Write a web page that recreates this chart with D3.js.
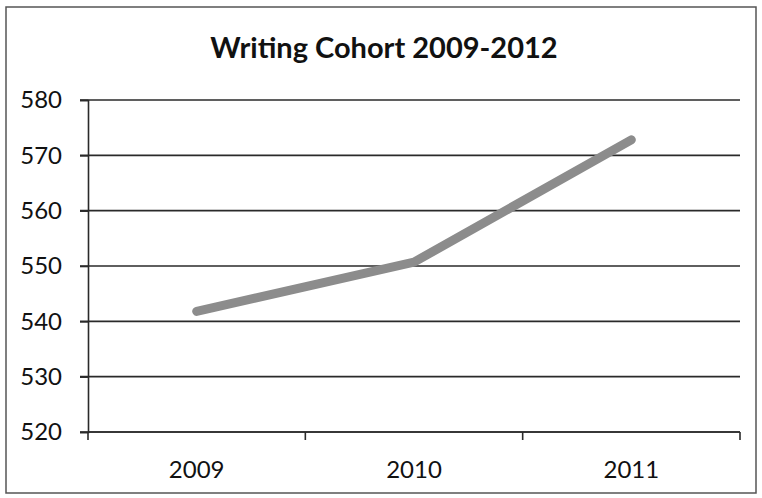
<!DOCTYPE html>
<html>
<head>
<meta charset="utf-8">
<script src="https://cdn.jsdelivr.net/npm/d3@7"></script>
<style>
  body { margin: 0; background: #fff; }
  svg text { font-family: Lato, "Open Sans", sans-serif; fill: #111; }
</style>
</head>
<body>
<svg id="chart" width="762" height="498"></svg>
<script>
// chart data
var years = ["2009", "2010", "2011"];
var scores = [541.8, 550.7, 572.8];
var yTicks = [520, 530, 540, 550, 560, 570, 580];
var title = "Writing Cohort 2009-2012";

var W = 762, H = 498;
var margin = {left: 88, right: 22, top: 100, bottom: 66};

var svg = d3.select("#chart");

// outer frame
svg.append("rect")
    .attr("x", 6).attr("y", 7)
    .attr("width", W - 12).attr("height", H - 12)
    .attr("fill", "none")
    .attr("stroke", "#555")
    .attr("stroke-width", 1.5);

var x = d3.scaleBand()
    .domain(years)
    .range([margin.left, W - margin.right]);

var y = d3.scaleLinear()
    .domain([520, 580])
    .range([H - margin.bottom, margin.top]);

// gridlines
svg.append("g")
    .selectAll("line")
    .data(yTicks)
    .join("line")
    .attr("x1", margin.left - 8)
    .attr("x2", W - margin.right)
    .attr("y1", function(d){ return y(d); })
    .attr("y2", function(d){ return y(d); })
    .attr("stroke", "#2a2a2a")
    .attr("stroke-width", 1.6);

// y axis
var yAxis = svg.append("g")
    .attr("transform", "translate(" + margin.left + ",0)")
    .call(d3.axisLeft(y).tickValues(yTicks).tickSize(8).tickPadding(18));
yAxis.select(".domain").attr("stroke", "#2a2a2a").attr("stroke-width", 1.6);
yAxis.selectAll(".tick line").attr("stroke", "#2a2a2a").attr("stroke-width", 1.6);
yAxis.selectAll("text").attr("font-size", 24).attr("fill", "#111");

// x axis: ticks on band edges, labels in centres
var edges = years.map(function(d){ return x(d); }).concat([x.range()[1]]);
var xg = svg.append("g");
xg.append("line")
    .attr("x1", margin.left).attr("x2", W - margin.right)
    .attr("y1", y(520)).attr("y2", y(520))
    .attr("stroke", "#2a2a2a").attr("stroke-width", 1.6);
xg.selectAll("line.tk")
    .data(edges)
    .join("line")
    .attr("class", "tk")
    .attr("x1", function(d){ return d; })
    .attr("x2", function(d){ return d; })
    .attr("y1", y(520))
    .attr("y2", y(520) + 8)
    .attr("stroke", "#2a2a2a").attr("stroke-width", 1.6);
xg.selectAll("text")
    .data(years)
    .join("text")
    .attr("x", function(d){ return x(d) + x.bandwidth() / 2; })
    .attr("y", y(520) + 46)
    .attr("text-anchor", "middle")
    .attr("font-size", 24)
    .text(function(d){ return d; });

// the line
var line = d3.line()
    .x(function(d, i){ return x(years[i]) + x.bandwidth() / 2; })
    .y(function(d){ return y(d); });

svg.append("path")
    .datum(scores)
    .attr("d", line)
    .attr("fill", "none")
    .attr("stroke", "#8c8c8c")
    .attr("stroke-width", 9)
    .attr("stroke-linecap", "round")
    .attr("stroke-linejoin", "round");

// title
svg.append("text")
    .attr("x", 384)
    .attr("y", 58)
    .attr("text-anchor", "middle")
    .attr("font-size", 29)
    .attr("font-weight", "bold")
    .text(title);
</script>
</body>
</html>
